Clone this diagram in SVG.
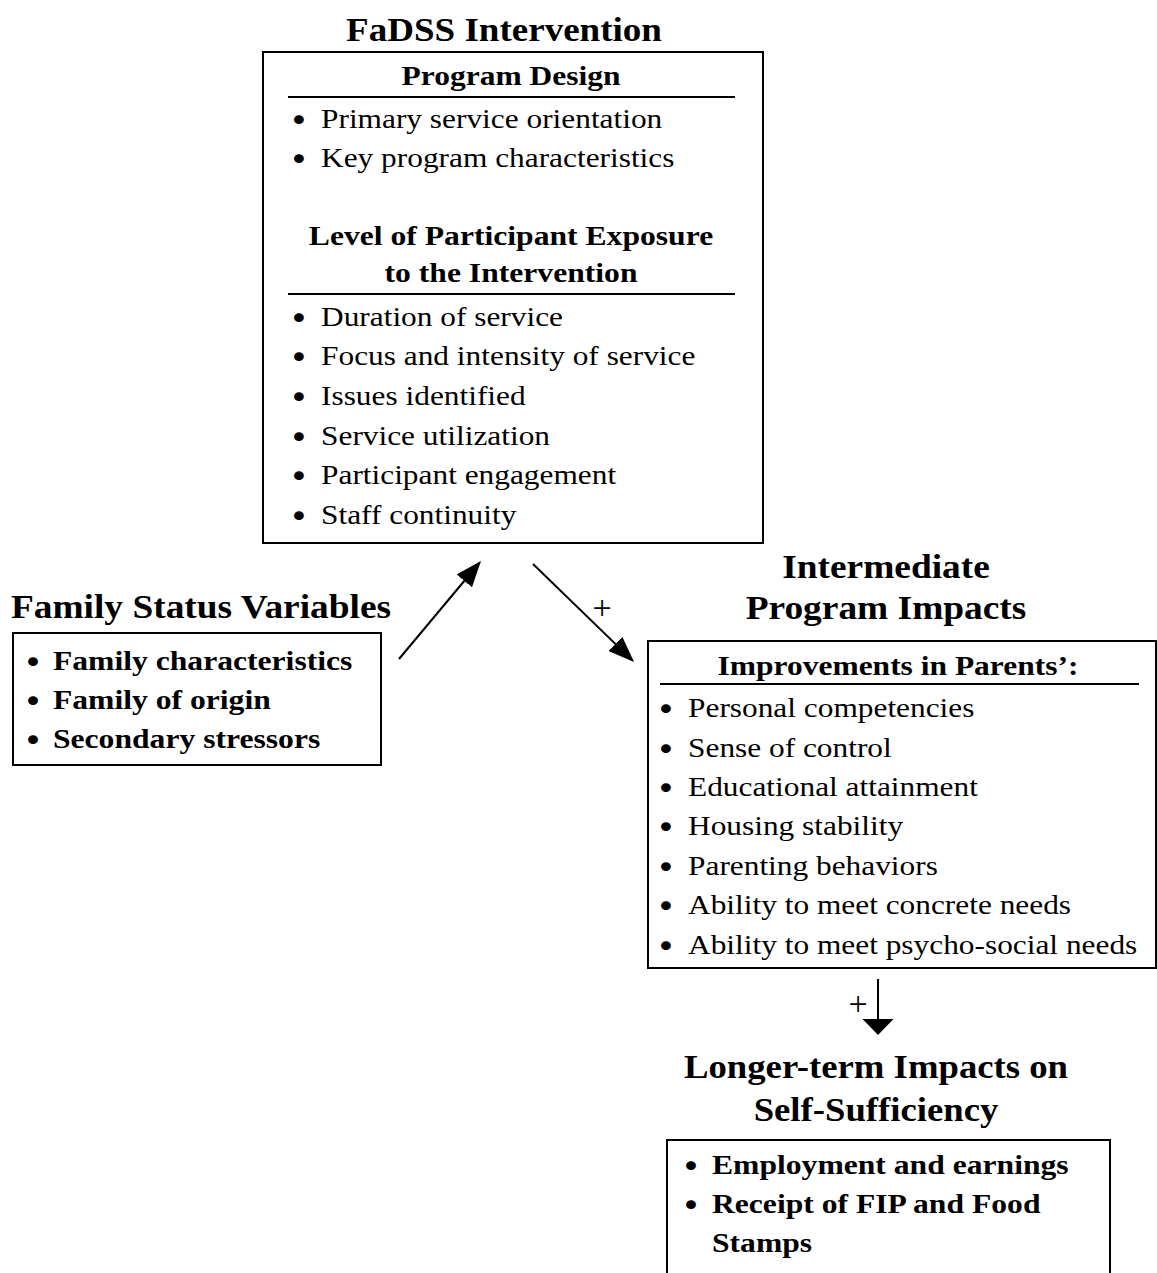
<svg xmlns="http://www.w3.org/2000/svg" width="1157" height="1273" viewBox="0 0 1157 1273">
<style>
text{font-family:"Liberation Serif","Times New Roman",serif;fill:#000}
.h{font-size:34px;font-weight:bold;text-anchor:middle}
.sh{font-size:28px;font-weight:bold;text-anchor:middle}
.it{font-size:28px}
.bi{font-size:28px;font-weight:bold}
.bu{font-family:"DejaVu Sans",sans-serif;font-size:30px;font-weight:normal}
.pl{font-size:34px;text-anchor:middle}
.box{fill:#fff;stroke:#000;stroke-width:2}
.rule{stroke:#000;stroke-width:2}
.conn{stroke:#000;stroke-width:2;fill:none}
</style>
<defs>
<marker id="ah" viewBox="0 0 26 20" refX="24" refY="10" markerWidth="26" markerHeight="20" markerUnits="userSpaceOnUse" orient="auto">
<path d="M0,0 L26,10 L0,20 z" fill="#000"/>
</marker>
<marker id="ahd" viewBox="0 0 16 31" refX="14" refY="15.5" markerWidth="16" markerHeight="31" markerUnits="userSpaceOnUse" orient="auto">
<path d="M0,0 L16,15.5 L0,31 z" fill="#000"/>
</marker>
</defs>
<rect width="1157" height="1273" fill="#fff"/>

<g id="fadss">
<text class="h" transform="translate(504,41) scale(1.09,1)">FaDSS Intervention</text>
<rect class="box" x="263" y="52" width="500" height="491"/>
<text class="sh" transform="translate(511,85) scale(1.125,1)">Program Design</text>
<line class="rule" x1="288" y1="97" x2="735" y2="97"/>
<text class="it" transform="translate(289,128) scale(1.12,1)"><tspan class="bu" dy="3">•</tspan><tspan x="28.6" dy="-3">Primary service orientation</tspan></text>
<text class="it" transform="translate(289,167) scale(1.12,1)"><tspan class="bu" dy="3">•</tspan><tspan x="28.6" dy="-3">Key program characteristics</tspan></text>
<text class="sh" transform="translate(511,245) scale(1.13,1)">Level of Participant Exposure</text>
<text class="sh" transform="translate(511,282) scale(1.13,1)">to the Intervention</text>
<line class="rule" x1="288" y1="294" x2="735" y2="294"/>
<text class="it" transform="translate(289,326) scale(1.12,1)"><tspan class="bu" dy="3">•</tspan><tspan x="28.6" dy="-3">Duration of service</tspan></text>
<text class="it" transform="translate(289,365) scale(1.12,1)"><tspan class="bu" dy="3">•</tspan><tspan x="28.6" dy="-3">Focus and intensity of service</tspan></text>
<text class="it" transform="translate(289,405) scale(1.12,1)"><tspan class="bu" dy="3">•</tspan><tspan x="28.6" dy="-3">Issues identified</tspan></text>
<text class="it" transform="translate(289,445) scale(1.12,1)"><tspan class="bu" dy="3">•</tspan><tspan x="28.6" dy="-3">Service utilization</tspan></text>
<text class="it" transform="translate(289,484) scale(1.12,1)"><tspan class="bu" dy="3">•</tspan><tspan x="28.6" dy="-3">Participant engagement</tspan></text>
<text class="it" transform="translate(289,524) scale(1.12,1)"><tspan class="bu" dy="3">•</tspan><tspan x="28.6" dy="-3">Staff continuity</tspan></text>
</g>

<g id="family">
<text class="h" transform="translate(201,618) scale(1.1,1)">Family Status Variables</text>
<rect class="box" x="13" y="633" width="368" height="132"/>
<text class="bi" transform="translate(23,670) scale(1.13,1)"><tspan class="bu" dy="3">•</tspan><tspan x="26.5" dy="-3">Family characteristics</tspan></text>
<text class="bi" transform="translate(23,709) scale(1.13,1)"><tspan class="bu" dy="3">•</tspan><tspan x="26.5" dy="-3">Family of origin</tspan></text>
<text class="bi" transform="translate(23,748) scale(1.13,1)"><tspan class="bu" dy="3">•</tspan><tspan x="26.5" dy="-3">Secondary stressors</tspan></text>
</g>

<g id="intermediate">
<text class="h" transform="translate(886,578) scale(1.1,1)">Intermediate</text>
<text class="h" transform="translate(886,619) scale(1.1,1)">Program Impacts</text>
<rect class="box" x="648" y="641" width="508" height="327"/>
<text class="sh" transform="translate(898,675) scale(1.125,1)">Improvements in Parents’:</text>
<line class="rule" x1="660" y1="684" x2="1139" y2="684"/>
<text class="it" transform="translate(656,717) scale(1.12,1)"><tspan class="bu" dy="3">•</tspan><tspan x="28.6" dy="-3">Personal competencies</tspan></text>
<text class="it" transform="translate(656,757) scale(1.12,1)"><tspan class="bu" dy="3">•</tspan><tspan x="28.6" dy="-3">Sense of control</tspan></text>
<text class="it" transform="translate(656,796) scale(1.12,1)"><tspan class="bu" dy="3">•</tspan><tspan x="28.6" dy="-3">Educational attainment</tspan></text>
<text class="it" transform="translate(656,835) scale(1.12,1)"><tspan class="bu" dy="3">•</tspan><tspan x="28.6" dy="-3">Housing stability</tspan></text>
<text class="it" transform="translate(656,875) scale(1.12,1)"><tspan class="bu" dy="3">•</tspan><tspan x="28.6" dy="-3">Parenting behaviors</tspan></text>
<text class="it" transform="translate(656,914) scale(1.12,1)"><tspan class="bu" dy="3">•</tspan><tspan x="28.6" dy="-3">Ability to meet concrete needs</tspan></text>
<text class="it" transform="translate(656,954) scale(1.12,1)"><tspan class="bu" dy="3">•</tspan><tspan x="28.6" dy="-3">Ability to meet psycho-social needs</tspan></text>
</g>

<g id="longer">
<text class="h" transform="translate(876,1078) scale(1.08,1)">Longer-term Impacts on</text>
<text class="h" transform="translate(876,1121) scale(1.08,1)">Self-Sufficiency</text>
<rect class="box" x="667" y="1140" width="443" height="160"/>
<text class="bi" transform="translate(681,1174) scale(1.13,1)"><tspan class="bu" dy="3">•</tspan><tspan x="27.4" dy="-3">Employment and earnings</tspan></text>
<text class="bi" transform="translate(681,1213) scale(1.13,1)"><tspan class="bu" dy="3">•</tspan><tspan x="27.4" dy="-3">Receipt of FIP and Food</tspan><tspan x="27.4" dy="39">Stamps</tspan></text>
</g>

<g id="connectors">
<line class="conn" x1="399" y1="659" x2="479.7" y2="562.5" marker-end="url(#ah)"/>
<line class="conn" x1="533" y1="564" x2="632.6" y2="660.6" marker-end="url(#ah)"/>
<text class="pl" x="602" y="619">+</text>
<line class="conn" x1="878" y1="979" x2="878" y2="1033" marker-end="url(#ahd)"/>
<text class="pl" x="858" y="1015">+</text>
</g>
</svg>
